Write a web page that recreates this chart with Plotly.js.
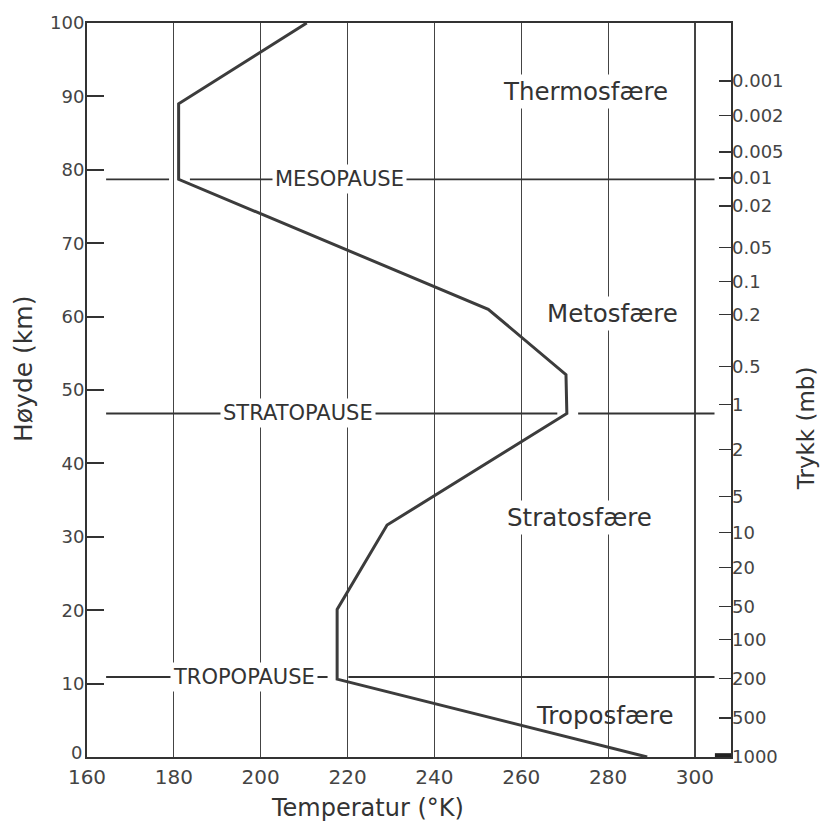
<!DOCTYPE html>
<html>
<head>
<meta charset="utf-8">
<script src="https://cdn.plot.ly/plotly-3.0.1.min.js"></script>
<style>
  html, body { margin: 0; padding: 0; background: #fff; }
  #chart { width: 822px; height: 821px; }
</style>
</head>
<body>
<div id="chart"></div>
<script>
// ---- data ----
const temperature = [289, 217.6, 217.6, 229.1, 270.5, 270.3, 252.4, 181.1, 181.1, 210.6];
const height      = [0,   10.6,  20.1,  31.6,  46.8,  52.1,  61.0,  78.7,  89.0,  100];

const pauseNames   = ['TROPOPAUSE', 'STRATOPAUSE', 'MESOPAUSE'];
const pauseHeights = [10.9, 46.8, 78.7];
const pauseCurveT  = [217.6, 270.5, 181.1];

const regionNames = ['Troposfære', 'Stratosfære', 'Metosfære', 'Thermosfære'];

const tempTicks   = [160, 180, 200, 220, 240, 260, 280, 300];
const heightTicks = [0, 10, 20, 30, 40, 50, 60, 70, 80, 90, 100];

const pressureLabels  = ['0.001', '0.002', '0.005', '0.01', '0.02', '0.05', '0.1', '0.2', '0.5', '1',
                         '2', '5', '10', '20', '50', '100', '200', '500', '1000'];
const pressureHeights = [92.1, 87.4, 82.4, 78.9, 75.1, 69.4, 64.8, 60.3, 53.2, 48.0,
                         41.9, 35.5, 30.6, 25.8, 20.5, 16.0, 10.7, 5.3, 0];

// ---- styling ----
const FONT = 'DejaVu Sans, Liberation Sans, sans-serif';
const INK = '#333333';
const LINE_LEFT = 164.4, LINE_RIGHT = 304.5;
const GAP_LO = 2.2, GAP_HI = 2.6;

const shapes = [];
pauseHeights.forEach((h, i) => {
  const c = pauseCurveT[i];
  shapes.push({type: 'line', xref: 'x', yref: 'y', x0: LINE_LEFT, x1: c - GAP_LO, y0: h, y1: h,
               line: {color: INK, width: 1.8}});
  shapes.push({type: 'line', xref: 'x', yref: 'y', x0: c + GAP_HI, x1: LINE_RIGHT, y0: h, y1: h,
               line: {color: INK, width: 1.8}});
});
// heavy mark at the bottom-right corner
shapes.push({type: 'line', xref: 'paper', yref: 'y', x0: 0.975, x1: 1, y0: 0.25, y1: 0.25,
             line: {color: '#222222', width: 4}});

const pauseLabelX = [196.1, 208.7, 218.2];
const annotations = [];
pauseNames.forEach((name, i) => {
  annotations.push({
    x: pauseLabelX[i], y: pauseHeights[i], xref: 'x', yref: 'y', xanchor: 'center', yanchor: 'middle',
    text: name, showarrow: false, bgcolor: '#ffffff', borderpad: 2,
    font: {family: FONT, size: 21, color: INK}
  });
});

const regionPos = [[279.3, 5.7], [273.4, 32.6], [281.0, 60.4], [274.9, 90.7]];
regionNames.forEach((name, i) => {
  annotations.push({
    x: regionPos[i][0], y: regionPos[i][1], xref: 'x', yref: 'y', xanchor: 'center', yanchor: 'middle',
    text: name, showarrow: false, bgcolor: i === 0 ? 'rgba(255,255,255,0)' : '#ffffff', borderpad: 2,
    font: {family: FONT, size: 24.5, color: INK}
  });
});

// the lowest height label sits a little above its tick, as in the reference
annotations.push({xref: 'paper', yref: 'y', x: 0, y: heightTicks[0], xanchor: 'right', yanchor: 'middle',
  xshift: -3, yshift: 5, text: String(heightTicks[0]), showarrow: false,
  font: {family: FONT, size: 18, color: '#444444'}});

// axis titles
annotations.push({xref: 'paper', yref: 'paper', x: 0.436, y: -0.0695, xanchor: 'center', yanchor: 'middle',
  text: 'Temperatur (°K)', showarrow: false, font: {family: FONT, size: 24, color: INK}});
annotations.push({xref: 'paper', yref: 'paper', x: -0.0994, y: 0.5286, xanchor: 'center', yanchor: 'middle',
  text: 'Høyde (km)', textangle: -90, showarrow: false, font: {family: FONT, size: 25, color: INK}});
annotations.push({xref: 'paper', yref: 'paper', x: 1.1165, y: 0.448, xanchor: 'center', yanchor: 'middle',
  text: 'Trykk (mb)', textangle: -90, showarrow: false, font: {family: FONT, size: 23, color: INK}});

const traces = [
  {x: temperature, y: height, type: 'scatter', mode: 'lines',
   line: {color: '#3c3c3c', width: 3}, hoverinfo: 'skip', showlegend: false, cliponaxis: false},
  {x: pressureHeights.map(() => null), y: pressureHeights, yaxis: 'y2', type: 'scatter', mode: 'lines',
   hoverinfo: 'skip', showlegend: false}
];

const layout = {
  width: 822, height: 821,
  margin: {l: 87, r: 91, t: 23, b: 64, pad: 0},
  paper_bgcolor: '#ffffff', plot_bgcolor: '#ffffff',
  showlegend: false,
  xaxis: {
    range: [160, 308.3], tickvals: tempTicks, ticktext: tempTicks.map(String),
    showgrid: true, gridcolor: '#444444', gridwidth: 1.2,
    zeroline: false, showline: true, mirror: true, linecolor: INK, linewidth: 2,
    ticks: '', ticklabelstandoff: 1, tickfont: {family: FONT, size: 20, color: '#444444'}, fixedrange: true
  },
  yaxis: {
    range: [0, 100], tickvals: heightTicks,
    ticktext: heightTicks.map((v, i) => i === 0 ? '' : String(v)),
    showgrid: false, zeroline: false, showline: true, mirror: true, linecolor: INK, linewidth: 2,
    ticks: 'inside', ticklen: 17, tickwidth: 2, tickcolor: INK, ticklabelstandoff: -3,
    tickfont: {family: FONT, size: 18, color: '#444444'}, fixedrange: true
  },
  yaxis2: {
    overlaying: 'y', side: 'right', range: [0, 100],
    tickvals: pressureHeights, ticktext: pressureLabels,
    showgrid: false, zeroline: false, showline: false,
    ticks: 'inside', ticklen: 12, tickwidth: 1.6, tickcolor: INK,
    tickfont: {family: FONT, size: 18, color: '#444444'}, fixedrange: true
  },
  shapes: shapes,
  annotations: annotations
};

Plotly.newPlot('chart', traces, layout, {displayModeBar: false, staticPlot: true});
</script>
</body>
</html>
